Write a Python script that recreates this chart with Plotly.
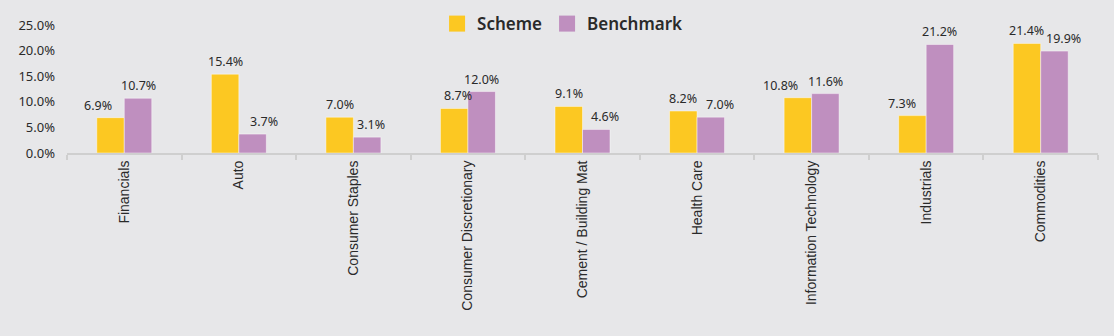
import plotly.graph_objects as go

categories = ["Financials", "Auto", "Consumer Staples", "Consumer Discretionary",
              "Cement / Building Mat", "Health Care", "Information Technology",
              "Industrials", "Commodities"]
scheme = [6.9, 15.4, 7.0, 8.7, 9.1, 8.2, 10.8, 7.3, 21.4]
benchmark = [10.7, 3.7, 3.1, 12.0, 4.6, 7.0, 11.6, 21.2, 19.9]

# label horizontal nudges (px) to mimic collision avoidance in the reference
scheme_shift = [-13, 0, 0, 4, 0, 0, -17, -10, 0]
bench_shift = [0, 11, 4, 0, 9, 9, 0, 0, 9]

YELLOW = "#FCC822"
PURPLE = "#BF8FBF"
BG = "#E7E7E9"
TXT = "#2a2a2a"
LFONT = "Noto Sans"

fig = go.Figure()
fig.add_trace(go.Bar(x=categories, y=scheme, name="Scheme", marker_color=YELLOW,
                     marker_line=dict(color="rgba(255,255,255,0.45)", width=1),
                     showlegend=False, offsetgroup="a"))
fig.add_trace(go.Bar(x=categories, y=benchmark, name="Benchmark", marker_color=PURPLE,
                     marker_line=dict(color="rgba(255,255,255,0.45)", width=1),
                     showlegend=False, offsetgroup="b"))
# legend proxies
fig.add_trace(go.Scatter(x=[None], y=[None], mode="markers", name="Scheme",
                         marker=dict(symbol="square", size=19, color=YELLOW)))
fig.add_trace(go.Scatter(x=[None], y=[None], mode="markers", name="Benchmark",
                         marker=dict(symbol="square", size=19, color=PURPLE)))

annotations = []
for i, c in enumerate(categories):
    for vals, shifts, off in ((scheme, scheme_shift, -0.12), (benchmark, bench_shift, 0.12)):
        annotations.append(dict(
            x=i + off, y=vals[i], xref="x", yref="y", text=f"{vals[i]:.1f}%",
            showarrow=False, yanchor="bottom", yshift=2, xshift=shifts[i],
            font=dict(family=LFONT, size=12.5, color=TXT)))

fig.update_layout(
    width=1114, height=336,
    paper_bgcolor=BG, plot_bgcolor=BG,
    margin=dict(l=67, r=16, t=25, b=183, autoexpand=False),
    barmode="group", bargap=0.52, bargroupgap=0,
    font=dict(family="Liberation Sans, Arial", color=TXT),
    legend=dict(orientation="h", x=0.505, xanchor="center", y=0.982, yanchor="top",
                xref="container", yref="container",
                font=dict(family=LFONT, size=17, color=TXT, weight=600),
                itemsizing="trace", bgcolor="rgba(0,0,0,0)"),
    annotations=annotations,
)
fig.update_xaxes(type="category", showgrid=False, showline=True, linecolor="#cfcfcf",
                 linewidth=2, ticks="outside", tickson="boundaries", ticklen=5,
                 tickcolor="#cfcfcf", tickwidth=2, tickangle=-90, automargin=False,
                 tickfont=dict(family="Liberation Sans, Arial", size=14, color=TXT))
fig.update_yaxes(range=[0, 25], dtick=5, tickformat=".1f", ticksuffix="%",
                 showgrid=False, zeroline=False, showline=False, automargin=False,
                 tickfont=dict(family=LFONT, size=13, color=TXT), ticklabelstandoff=11)

fig.write_html("out.html")
